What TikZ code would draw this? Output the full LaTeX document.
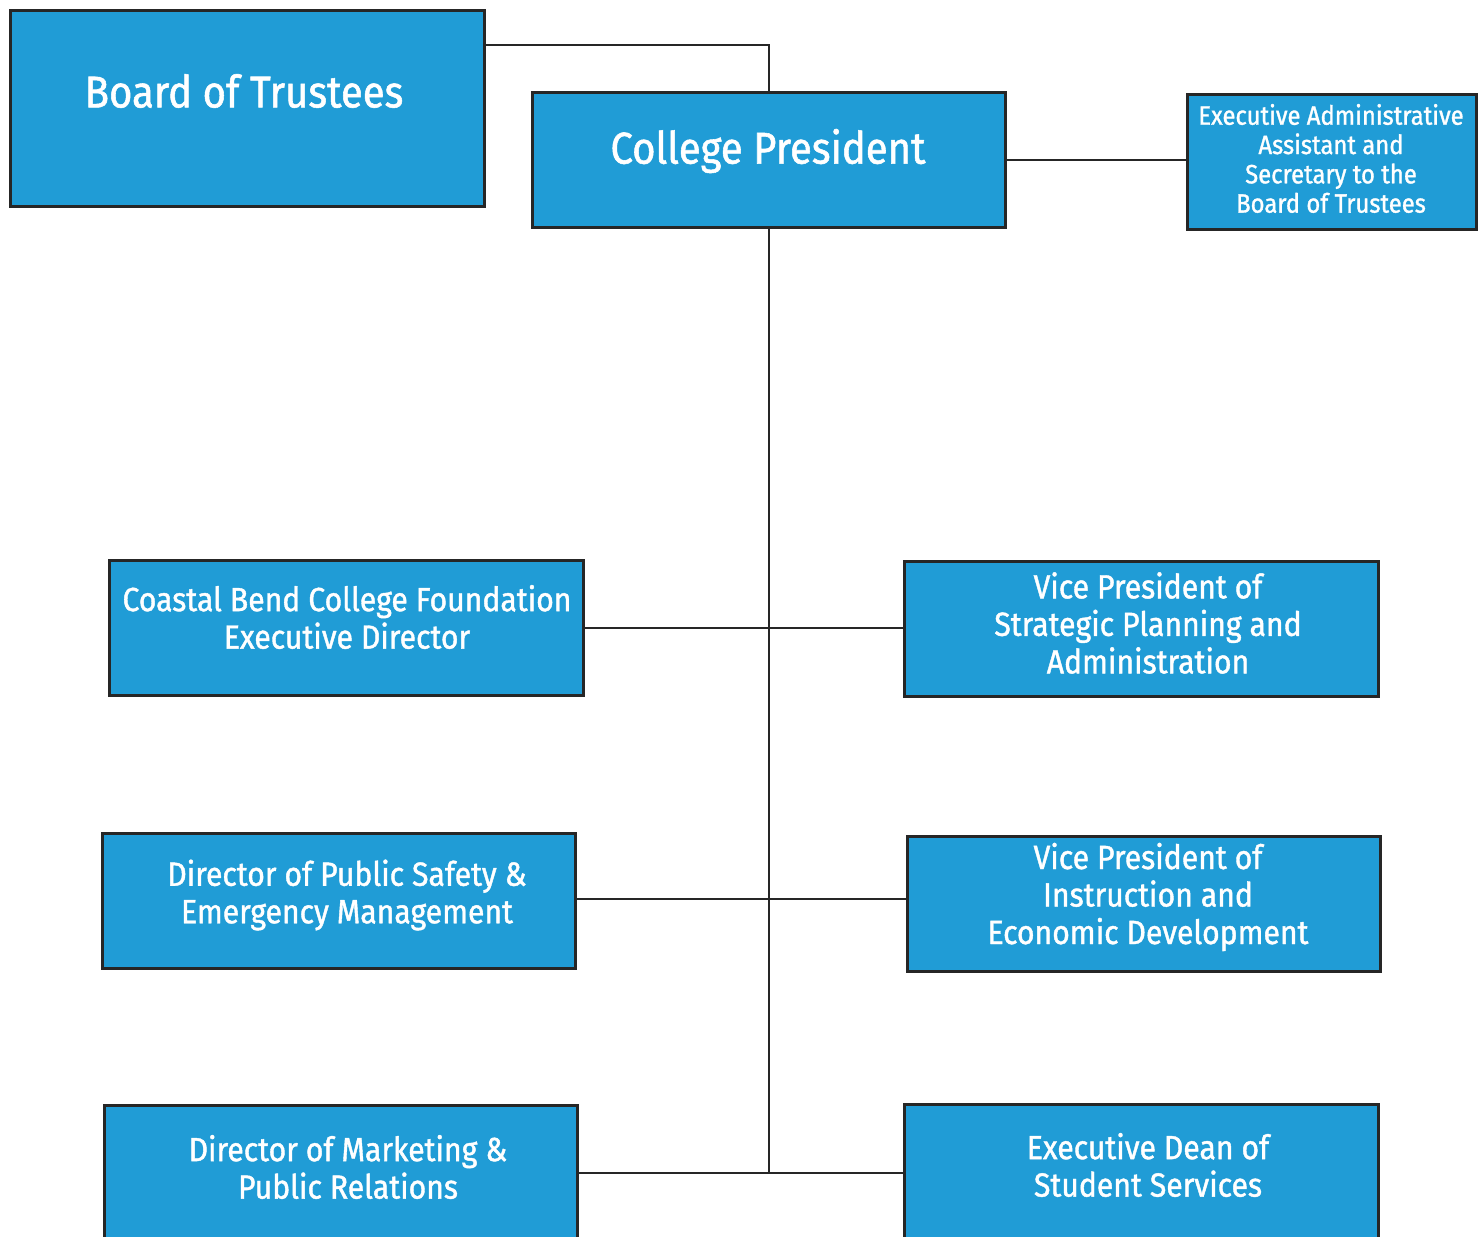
\documentclass[tikz,border=0pt]{standalone}
\usepackage{fontspec}
\setmainfont{Fira Sans}[FakeStretch=0.9,FakeBold=1.2]
\begin{document}
\begin{tikzpicture}[x=1pt,y=-1pt,
  box/.style={draw=boxline,fill=boxblue,line width=3pt,inner sep=0pt,anchor=north west},
  lbl/.style={text=white,align=center,inner sep=0pt},
  big/.style={font=\fontsize{44.5}{54}\selectfont},
  mid/.style={font=\fontsize{33.5}{37.5}\selectfont},
  small/.style={font=\fontsize{26.5}{29.3}\selectfont},
  conn/.style={draw=boxline,line width=2.5pt}]
\definecolor{boxblue}{HTML}{209CD6}
\definecolor{boxline}{HTML}{262626}
\clip (0,0) rectangle (1479,1236);
\useasboundingbox (0,0) rectangle (1479,1236);
% boxes
\node[box,minimum width=474pt,minimum height=196pt] (bot) at (9,9) {};
\node[box,minimum width=473pt,minimum height=135pt] (pres) at (531,91) {};
\node[box,minimum width=289pt,minimum height=135pt] (eaa) at (1186,93) {};
\node[box,minimum width=474pt,minimum height=135pt] (cbf) at (108,559) {};
\node[box,minimum width=474pt,minimum height=135pt] (vps) at (903,560) {};
\node[box,minimum width=473pt,minimum height=135pt] (dps) at (101,832) {};
\node[box,minimum width=473pt,minimum height=135pt] (vpi) at (906,835) {};
\node[box,minimum width=473pt,minimum height=160pt] (dmk) at (103,1104) {};
\node[box,minimum width=474pt,minimum height=160pt] (eds) at (903,1103) {};
% labels
\node[lbl,big] (tbot) at (244,91) {Board of Trustees};
\node[lbl,big] (tpres) at (768,151) {College President};
\node[lbl,small] (teaa) at (1331,158.5) {Executive Administrative\\Assistant and\\Secretary to the\\Board of Trustees};
\node[lbl,mid] (tcbf) at (347,617) {Coastal Bend College Foundation\\Executive Director};
\node[lbl,mid] (tvps) at (1148,623) {Vice President of\\Strategic Planning and\\Administration};
\node[lbl,mid] (tdps) at (347,895) {Director of Public Safety \&\\Emergency Management};
\node[lbl,mid] (tvpi) at (1148,897) {Vice President of\\Instruction and\\Economic Development};
\node[lbl,mid] (tdmk) at (348,1167) {Director of Marketing \&\\Public Relations};
\node[lbl,mid] (teds) at (1148,1165) {Executive Dean of\\Student Services};
% connectors
\coordinate (j0) at (769,45);
\coordinate (j1) at (769,628);
\coordinate (j2) at (769,899);
\coordinate (j3) at (769,1173);
\draw[conn] (bot.north east |- j0) -- (j0) -- (pres.north -| j0);
\draw[conn] (pres.south -| j0) -- (j3);
\draw[conn] (pres.east |- 0,160) -- (eaa.west |- 0,160);
\draw[conn] (cbf.east |- j1) -- (vps.west |- j1);
\draw[conn] (dps.east |- j2) -- (vpi.west |- j2);
\draw[conn] (dmk.east |- j3) -- (eds.west |- j3);
\end{tikzpicture}
\end{document}
